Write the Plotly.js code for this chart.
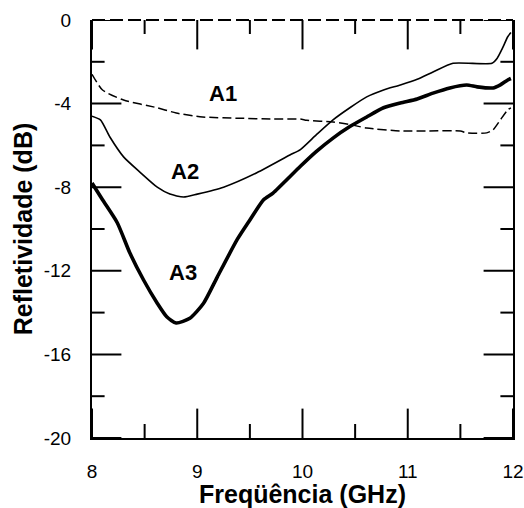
<!DOCTYPE html>
<html>
<head>
<meta charset="utf-8">
<script src="https://cdn.plot.ly/plotly-3.0.1.min.js"></script>
<style>html,body{margin:0;padding:0;background:#fff;}#chart{width:524px;height:508px;}</style>
</head>
<body>
<div id="chart"></div>
<script>
// A1 (dashed)
const a1Freq = [8.0, 8.1, 8.3, 8.62, 8.8, 9.05, 9.4, 9.72, 9.98, 10.04, 10.29, 10.45, 10.61, 10.93, 11.2, 11.5, 11.56, 11.75, 11.81, 11.88, 11.95, 11.98];
const a1Refl = [-2.6, -3.35, -3.83, -4.2, -4.45, -4.64, -4.7, -4.74, -4.74, -4.8, -4.88, -5.0, -5.17, -5.31, -5.31, -5.31, -5.4, -5.4, -5.26, -4.78, -4.3, -4.2];
// A2 (thin solid)
const a2Freq = [8.0, 8.08, 8.17, 8.3, 8.46, 8.62, 8.74, 8.87, 9.0, 9.25, 9.57, 9.88, 9.98, 10.13, 10.29, 10.45, 10.61, 10.77, 10.93, 11.09, 11.24, 11.43, 11.8, 11.85, 11.9, 11.95, 11.98];
const a2Refl = [-4.6, -4.78, -5.6, -6.55, -7.3, -8.0, -8.33, -8.47, -8.33, -8.0, -7.3, -6.46, -6.2, -5.5, -4.78, -4.2, -3.68, -3.35, -3.11, -2.84, -2.49, -2.07, -2.07, -1.83, -1.35, -0.8, -0.6];
// A3 (thick solid)
const a3Freq = [8.0, 8.1, 8.24, 8.36, 8.49, 8.62, 8.71, 8.8, 8.93, 9.06, 9.19, 9.38, 9.5, 9.63, 9.72, 9.98, 10.13, 10.29, 10.45, 10.61, 10.77, 10.93, 11.09, 11.24, 11.4, 11.56, 11.66, 11.81, 11.88, 11.95, 11.98];
const a3Refl = [-7.8, -8.6, -9.7, -11.15, -12.44, -13.55, -14.2, -14.5, -14.27, -13.55, -12.3, -10.5, -9.57, -8.6, -8.28, -7.0, -6.3, -5.65, -5.1, -4.64, -4.2, -3.97, -3.78, -3.5, -3.25, -3.11, -3.2, -3.25, -3.1, -2.87, -2.8];

const seriesNames = ['A1', 'A2', 'A3'];
const labelFreq = [9.24, 8.88, 8.86];
const labelRefl = [-3.5, -7.27, -12.06];

const xTickVals = [8, 9, 10, 11, 12];
const xTickText = ['8', '9', '10', '11', '12'];
const yTickVals = [0, -4, -8, -12, -16, -20];
const yTickText = ['0', '-4', '-8', '-12', '-16', '-20'];
const xMinorVals = [8.5, 9.5, 10.5, 11.5];
const yMinorVals = [-2, -6, -10, -14, -18];
const xRange = [8, 12];
const yRange = [-20, 0];

const font = 'Arial, "Liberation Sans", Helvetica, sans-serif';

const traces = [
  {x: a1Freq, y: a1Refl, name: seriesNames[0], mode: 'lines', line: {color: '#000', width: 1.5, dash: '9px,4px', shape: 'spline', smoothing: 0.6}},
  {x: a2Freq, y: a2Refl, name: seriesNames[1], mode: 'lines', line: {color: '#000', width: 1.6, shape: 'spline', smoothing: 0.6}},
  {x: a3Freq, y: a3Refl, name: seriesNames[2], mode: 'lines', line: {color: '#000', width: 3.6, shape: 'spline', smoothing: 0.6}}
];

// inside tick marks: line markers centred on the frame edges, clipped to the plot area
function tickTrace(xs, ys, symbol, len) {
  return {x: xs, y: ys, mode: 'markers', hoverinfo: 'skip', showlegend: false, cliponaxis: true,
    marker: {symbol: symbol, size: 2 * len, color: '#000', line: {color: '#000', width: 2}}};
}
[yRange[0], yRange[1]].forEach(edge => {
  traces.push(tickTrace(xTickVals, xTickVals.map(() => edge), 'line-ns', 21));
  traces.push(tickTrace(xMinorVals, xMinorVals.map(() => edge), 'line-ns', 10));
});
[xRange[0], xRange[1]].forEach(edge => {
  traces.push(tickTrace(yTickVals.map(() => edge), yTickVals, 'line-ew', 21));
  traces.push(tickTrace(yMinorVals.map(() => edge), yMinorVals, 'line-ew', 9));
});

const annotations = seriesNames.map((n, i) => ({
  x: labelFreq[i], y: labelRefl[i], xref: 'x', yref: 'y', text: n, showarrow: false,
  font: {family: font, size: 22, color: '#000', weight: 'bold'}
}));

const layout = {
  width: 524, height: 508,
  margin: {l: 92, r: 11, t: 20, b: 70},
  paper_bgcolor: '#fff', plot_bgcolor: '#fff',
  showlegend: false,
  font: {family: font, color: '#000'},
  xaxis: {
    range: xRange, tickmode: 'array', tickvals: xTickVals, ticktext: xTickText,
    ticks: 'outside', ticklen: 15, tickcolor: 'rgba(0,0,0,0)',
    showline: true, linecolor: '#000', linewidth: 2, mirror: false,
    showgrid: false, zeroline: false, automargin: false,
    tickfont: {size: 19, family: font, color: '#000'},
    title: {text: 'Freqüência (GHz)', font: {size: 25, family: font, weight: 'bold', color: '#000'}, standoff: 2}
  },
  yaxis: {
    range: yRange, tickmode: 'array', tickvals: yTickVals, ticktext: yTickText,
    ticks: 'outside', ticklen: 15, tickcolor: 'rgba(0,0,0,0)',
    showline: true, linecolor: '#000', linewidth: 2, mirror: true,
    showgrid: false, zeroline: false, automargin: false,
    tickfont: {size: 19, family: font, color: '#000'},
    title: {text: 'Refletividade (dB)', font: {size: 25, family: font, weight: 'bold', color: '#000'}, standoff: 4}
  },
  shapes: [
    // dashed top edge of the frame
    {type: 'line', xref: 'paper', yref: 'paper', x0: 0, x1: 1, y0: 1, y1: 1, line: {color: '#000', width: 2, dash: '13px,5px'}, layer: 'above'}
  ],
  annotations: annotations
};

Plotly.newPlot('chart', traces, layout, {displayModeBar: false});
</script>
</body>
</html>
